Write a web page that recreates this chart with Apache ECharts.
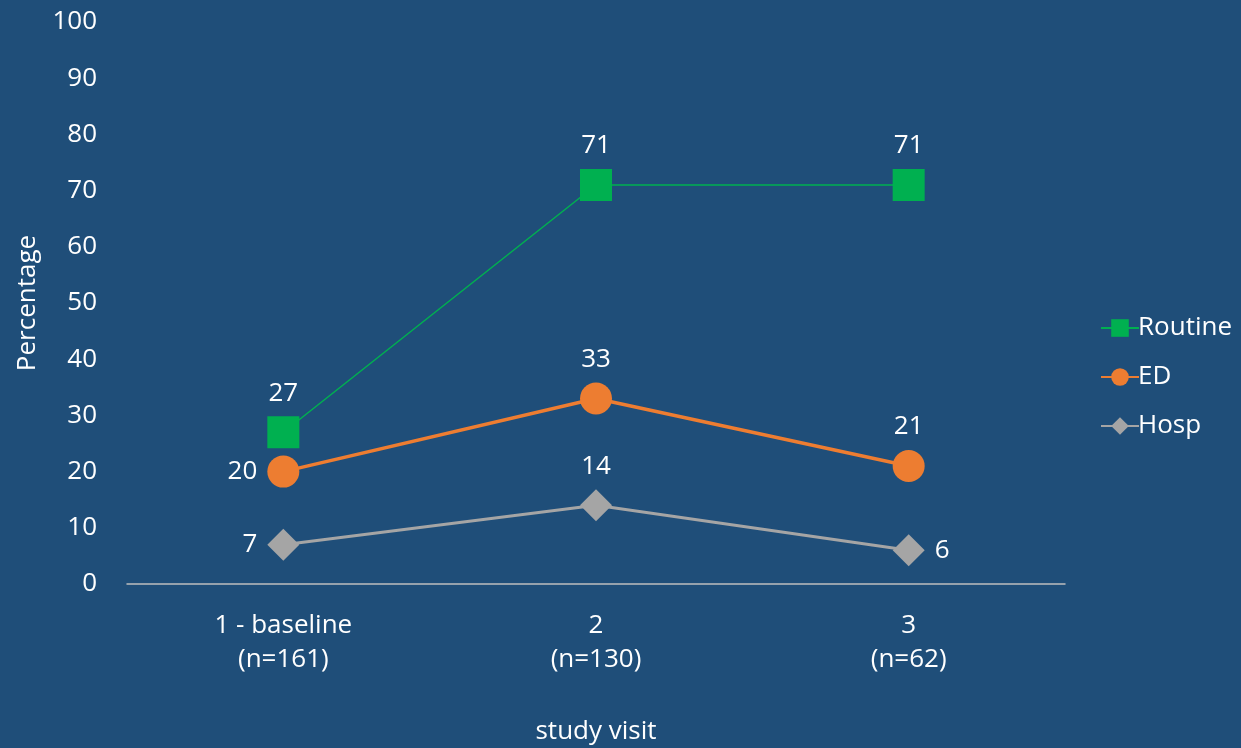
<!DOCTYPE html>
<html>
<head>
<meta charset="utf-8">
<script src="https://cdn.jsdelivr.net/npm/echarts@6/dist/echarts.min.js"></script>
<style>
  html, body { margin: 0; padding: 0; background: #1f4e79; }
  #chart { width: 1241px; height: 748px; }
</style>
</head>
<body>
<div id="chart"></div>
<script>
// Study visits and the share of participants in each care category
const categories = ['1 - baseline\n(n=161)', '2\n(n=130)', '3\n(n=62)'];
const routine = [27, 71, 71];
const ed = [20, 33, 21];
const hosp = [7, 14, 6];
const yTicks = [0, 10, 20, 30, 40, 50, 60, 70, 80, 90, 100];

const FONT = '"Open Sans", "Noto Sans", sans-serif';
const TEXT = '#ffffff';
const FS = 26;

const chart = echarts.init(document.getElementById('chart'), null, { renderer: 'canvas' });

function labelCfg() {
  return {
    show: true,
    color: TEXT,
    fontFamily: FONT,
    fontSize: FS,
    distance: 10,
    formatter: p => String(p.value),
    position: 'top'
  };
}

function withPositions(values, positions) {
  return values.map((v, i) => ({
    value: v,
    label: { position: positions[i] }
  }));
}

chart.setOption({
  backgroundColor: '#1f4e79',
  animation: false,
  grid: {
    left: 127, right: 176, top: 22, bottom: 164,
    containLabel: false,
    outerBoundsMode: 'none'
  },
  legend: {
    orient: 'vertical',
    left: 1095,
    top: 310,
    itemGap: 23,
    itemWidth: 38,
    itemHeight: 22,
    textStyle: { color: TEXT, fontFamily: FONT, fontSize: FS, padding: [0, 0, 0, -6] },
    data: ['Routine', 'ED', 'Hosp']
  },
  xAxis: {
    type: 'category',
    data: categories,
    boundaryGap: true,
    name: 'study visit',
    nameLocation: 'middle',
    nameGap: 135,
    nameTextStyle: { color: TEXT, fontFamily: FONT, fontSize: FS },
    axisLine: { show: true, lineStyle: { color: '#bfbfbf', width: 1.5 } },
    axisTick: { show: false },
    axisLabel: {
      color: TEXT, fontFamily: FONT, fontSize: FS, lineHeight: 34, margin: 25
    }
  },
  yAxis: {
    type: 'value',
    min: yTicks[0],
    max: yTicks[yTicks.length - 1],
    interval: 10,
    name: 'Percentage',
    nameLocation: 'middle',
    nameGap: 86,
    nameRotate: 90,
    nameTextStyle: { color: TEXT, fontFamily: FONT, fontSize: FS },
    axisLine: { show: false },
    axisTick: { show: false },
    splitLine: { show: false },
    axisLabel: { color: TEXT, fontFamily: FONT, fontSize: FS, margin: 30 }
  },
  series: [
    {
      name: 'Routine',
      type: 'line',
      data: routine,
      symbol: 'rect',
      symbolSize: 32,
      itemStyle: { color: '#00b050' },
      lineStyle: { color: '#00b050', width: 1.5 },
      label: labelCfg(),
      z: 3
    },
    {
      name: 'ED',
      type: 'line',
      data: withPositions(ed, ['left', 'top', 'top']),
      symbol: 'circle',
      symbolSize: 32,
      itemStyle: { color: '#ed7d31' },
      lineStyle: { color: '#ed7d31', width: 3.5 },
      label: labelCfg(),
      z: 2
    },
    {
      name: 'Hosp',
      type: 'line',
      data: withPositions(hosp, ['left', 'top', 'right']),
      symbol: 'diamond',
      symbolSize: 32,
      itemStyle: { color: '#a5a5a5' },
      lineStyle: { color: '#a5a5a5', width: 3 },
      label: labelCfg(),
      z: 1
    }
  ]
});
</script>
</body>
</html>
